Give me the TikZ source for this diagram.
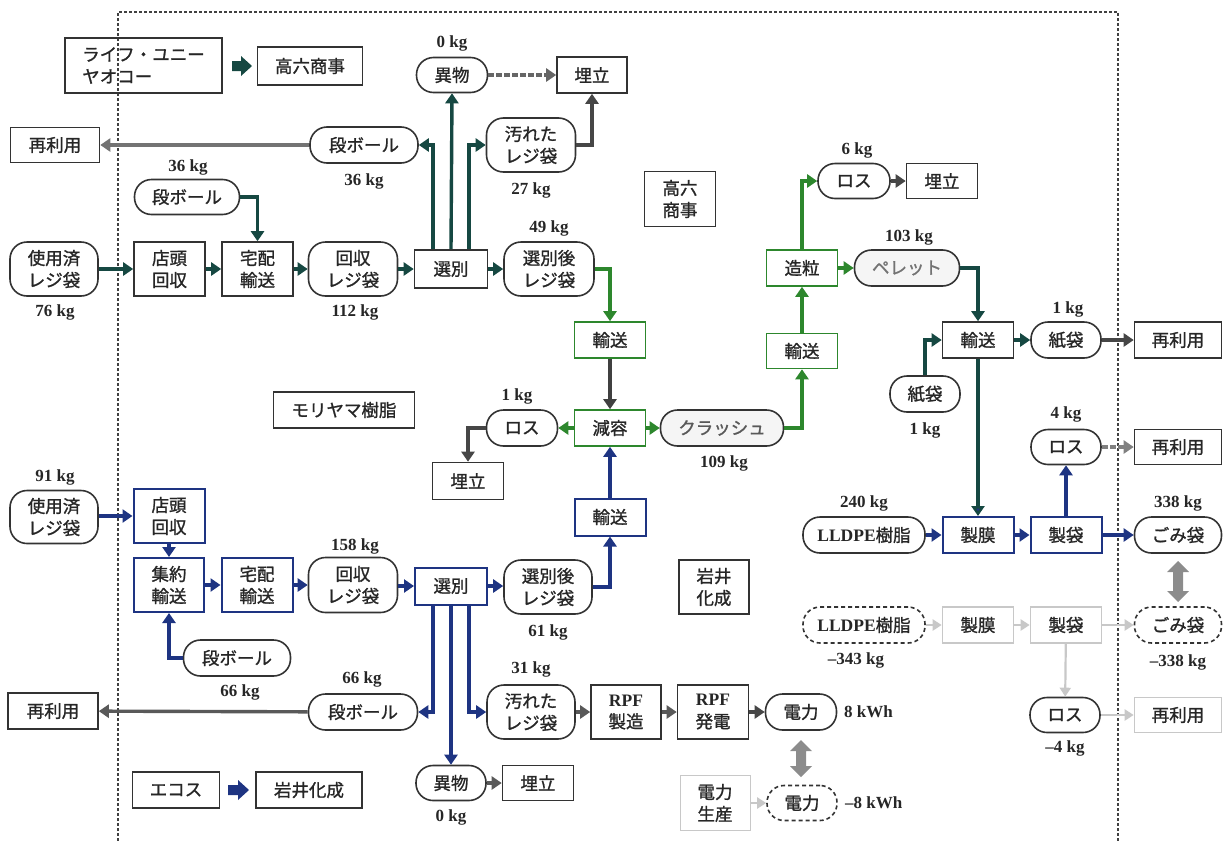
\documentclass[tikz,border=0pt]{standalone}
\usepackage{fontspec}
\setmainfont{Liberation Serif}
\newfontfamily\jp[FakeBold=1.2]{Noto Sans CJK JP}
\usetikzlibrary{arrows.meta}
\definecolor{cteal}{RGB}{22,72,66}
\definecolor{cgreen}{RGB}{45,135,45}
\definecolor{cnavy}{RGB}{30,52,130}
\definecolor{cdgray}{RGB}{70,70,70}
\definecolor{clgray}{RGB}{200,200,200}
\newcommand{\lat}[1]{{\rmfamily\bfseries #1}}
\tikzset{
  base/.style={inner sep=0pt, align=center, font=\jp\fontsize{17.5}{22}\selectfont, text=black!85, line width=1.6pt},
  bx/.style={base, draw=black!80, rectangle},
  rb/.style={base, draw=black!80, rounded corners=17pt},
  sz/.style 2 args={minimum width=#1pt, minimum height=#2pt},
  gbx/.style={bx, draw=cgreen},
  nbx/.style={bx, draw=cnavy, line width=2pt},
  lbx/.style={bx, draw=clgray},
  dsh/.style={dash pattern=on 4pt off 3pt},
  kg/.style={font=\bfseries\fontsize{17}{19}\selectfont, text=black!85, inner sep=0pt},
  arr/.style={line width=3.4pt, line join=miter, -{Triangle[length=10pt,width=13pt]}},
  tarr/.style={arr, draw=cteal, -{Triangle[length=10pt,width=13pt,fill=cteal]}},
  garr/.style={arr, draw=cgreen},
  narr/.style={arr, draw=cnavy},
  darr/.style={arr, draw=cdgray},
  larr/.style={line width=2.2pt, draw=clgray, -{Triangle[length=9pt,width=11pt]}},
}
\begin{document}
\begin{tikzpicture}[x=1pt,y=-1pt]
\useasboundingbox (0,0) rectangle (1227,841);
% dashed frame
\draw[line width=1.2pt, black!75, dash pattern=on 3pt off 2pt] (118,841) -- (118,12) -- (1118,12) -- (1118,841);

% ---------- top-left legend ----------
\node[bx, sz={157}{55}, align=left] (cust1) at (143.5,65.5) {ライフ・ユニー\\ヤオコー};
\node[bx, sz={105}{38}] (tk1) at (310,66) {高六商事};
\fill[cteal] (232,61) -- (241,61) -- (241,56) -- (252,66) -- (241,76) -- (241,71) -- (232,71) -- cycle;

% ---------- upper chain (Takaroku) ----------
\node[bx, sz={89}{35}] (reuse1) at (55,145) {再利用};
\node[rb, sz={108}{36}] (dan1) at (364,145) {段ボール};
\node[rb, sz={105}{35}] (dan0) at (187,197) {段ボール};
\node[rb, sz={88}{54}] (used1) at (54,269) {使用済\\レジ袋};
\node[bx, sz={71}{54}] (ten1) at (169.5,269) {店頭\\回収};
\node[bx, sz={71}{54}] (tak1) at (257.5,269) {宅配\\輸送};
\node[rb, sz={89}{54}] (kai1) at (353,269) {回収\\レジ袋};
\node[bx, sz={73}{38}] (sel1) at (451,269) {選別};
\node[rb, sz={90}{54}] (aft1) at (549,269) {選別後\\レジ袋};
\node[rb, sz={71}{35}] (ibu1) at (452,75) {異物};
\node[bx, sz={70}{36}] (ume1) at (592,75) {埋立};
\node[rb, sz={89}{54}] (yog1) at (531,145) {汚れた\\レジ袋};
\node[bx, sz={71}{55}] (tk2) at (680,199) {高六\\商事};

\node[kg] (l0a) at (452,43) {0 kg};
\node[kg] (l36a) at (364,181) {36 kg};
\node[kg] (l36b) at (188,167) {36 kg};
\node[kg] (l27) at (531,190) {27 kg};
\node[kg] (l49) at (549,228) {49 kg};
\node[kg] (l76) at (55,312) {76 kg};
\node[kg] (l112) at (355,312) {112 kg};

\draw[tarr] (used1) -- (ten1);
\draw[tarr] (ten1) -- (tak1);
\draw[tarr] (tak1) -- (kai1);
\draw[tarr] (kai1) -- (sel1);
\draw[tarr] (sel1) -- (aft1);
\draw[tarr] (dan0.east) -| (tak1.north);
\draw[tarr] ([xshift=-18pt]sel1.north) |- (dan1.east);
\draw[tarr] (sel1.north) -- (ibu1.south);
\draw[tarr] ([xshift=18pt]sel1.north) |- (yog1.west);
\draw[darr, draw=black!55] (dan1) -- (reuse1);
\draw[darr, draw=black!60, dash pattern=on 6pt off 2pt] (ibu1) -- (ume1);
\draw[darr] (yog1.east) -| (ume1.south);

% ---------- middle green chain (Moriyama) ----------
\node[gbx, sz={71}{36}] (yu1) at (610,340) {輸送};
\node[gbx, sz={71}{36}] (gen) at (610,428) {減容};
\node[rb, sz={71}{36}] (loss1) at (522,428) {ロス};
\node[bx, sz={71}{37}] (ume2) at (468,481) {埋立};
\node[rb, sz={123}{36}, fill=black!4, text=black!65] (crush) at (722,428) {クラッシュ};
\node[gbx, sz={71}{35}] (yu2) at (802,351) {輸送};
\node[gbx, sz={71}{36}] (zo) at (802,268) {造粒};
\node[rb, sz={72}{35}] (loss6) at (854,181) {ロス};
\node[bx, sz={71}{35}] (ume3) at (942,181) {埋立};
\node[rb, sz={105}{36}, fill=black!4, text=black!55] (pel) at (907,268) {ペレット};
\node[bx, sz={141}{36}] (mori) at (344,410) {モリヤマ樹脂};

\node[kg] (l1c) at (517,396) {1 kg};
\node[kg] (l109) at (724,463) {109 kg};
\node[kg] (l6) at (857,150) {6 kg};
\node[kg] (l103) at (909,237) {103 kg};

\draw[garr] (aft1.east) -| (yu1.north);
\draw[arr, draw=black!75] (yu1) -- (gen);
\draw[garr] (gen) -- (loss1);
\draw[darr] (loss1.west) -| (ume2.north);
\draw[garr] (gen) -- (crush);
\draw[garr] (crush.east) -| (yu2.south);
\draw[garr] (yu2) -- (zo);
\draw[garr] (zo.north) |- (loss6.west);
\draw[darr] (loss6) -- (ume3);
\draw[garr] (zo) -- (pel);

% ---------- right (bag making) ----------
\node[bx, sz={71}{36}] (yu3) at (978,340) {輸送};
\node[rb, sz={70}{36}] (kami1) at (925,394) {紙袋};
\node[rb, sz={70}{36}] (kami2) at (1066,340) {紙袋};
\node[bx, sz={87}{36}] (reuse2) at (1178,340) {再利用};
\node[rb, sz={70}{35}] (loss4) at (1066,447) {ロス};
\node[bx, sz={87}{35}] (reuse3) at (1178,447) {再利用};
\node[rb, sz={122}{36}] (lldpe) at (864,535) {\lat{LLDPE}樹脂};
\node[nbx, sz={71}{36}] (maku1) at (978,535) {製膜};
\node[nbx, sz={71}{36}] (fuk1) at (1066,535) {製袋};
\node[rb, sz={87}{36}] (gomi1) at (1178,535) {ごみ袋};

\node[kg] (l1a) at (1068,309) {1 kg};
\node[kg] (l1b) at (925,430) {1 kg};
\node[kg] (l4) at (1066,414) {4 kg};
\node[kg] (l240) at (864,503) {240 kg};
\node[kg] (l338) at (1178,503) {338 kg};

\draw[tarr] (pel.east) -| (yu3.north);
\draw[tarr] (kami1.north) |- (yu3.west);
\draw[tarr] (yu3) -- (kami2);
\draw[darr] (kami2) -- (reuse2);
\draw[arr, draw=cteal, -{Triangle[length=10pt,width=13pt,fill=cnavy]}] (yu3) -- (maku1);
\draw[narr] (lldpe) -- (maku1);
\draw[narr] (maku1) -- (fuk1);
\draw[narr] (fuk1) -- (gomi1);
\draw[narr] (fuk1) -- (loss4);
\draw[darr, draw=black!50, dash pattern=on 6pt off 2pt] (loss4) -- (reuse3);

% ---------- avoided (dashed) row ----------
\node[rb, sz={122}{36}, dsh] (lldpe2) at (864,625) {\lat{LLDPE}樹脂};
\node[lbx, sz={71}{36}] (maku2) at (978,625) {製膜};
\node[lbx, sz={71}{36}] (fuk2) at (1066,625) {製袋};
\node[rb, sz={87}{36}, dsh] (gomi2) at (1178,625) {ごみ袋};
\node[rb, sz={70}{35}] (loss5) at (1065,715) {ロス};
\node[lbx, sz={87}{35}] (reuse4) at (1178,715) {再利用};

\node[kg] (l343) at (856,660) {–343 kg};
\node[kg] (l338b) at (1178,662) {–338 kg};
\node[kg] (l4b) at (1065,748) {–4 kg};

\draw[larr] (lldpe2) -- (maku2);
\draw[larr] (maku2) -- (fuk2);
\draw[larr] (fuk2) -- (gomi2);
\draw[larr] (fuk2) -- (loss5);
\draw[larr] (loss5) -- (reuse4);

% grey double arrow (gomi)
\fill[black!45] (1178,561) -- (1189,572) -- (1183,572) -- (1183,591) -- (1189,591) -- (1178,602) -- (1167,591) -- (1173,591) -- (1173,572) -- (1167,572) -- cycle;

% ---------- lower navy chain (Iwai) ----------
\node[rb, sz={88}{53}] (used2) at (54,517) {使用済\\レジ袋};
\node[nbx, sz={71}{54}] (ten2) at (169,516) {店頭\\回収};
\node[nbx, sz={70}{54}] (shu) at (169,585) {集約\\輸送};
\node[nbx, sz={71}{54}] (tak2) at (257,585) {宅配\\輸送};
\node[rb, sz={89}{55}] (kai2) at (353,585) {回収\\レジ袋};
\node[nbx, sz={72}{37}] (sel2) at (451,586) {選別};
\node[rb, sz={88}{54}] (aft2) at (548,587) {選別後\\レジ袋};
\node[nbx, sz={71}{37}] (yu4) at (610,517) {輸送};
\node[rb, sz={107}{36}] (dan3) at (237,658) {段ボール};
\node[rb, sz={109}{36}] (dan4) at (363,712) {段ボール};
\node[bx, sz={90}{36}] (reuse5) at (53,711) {再利用};
\node[rb, sz={88}{54}] (yog2) at (531,712) {汚れた\\レジ袋};
\node[bx, sz={70}{54}] (rpf1) at (626,712) {\lat{RPF}\\製造};
\node[bx, sz={71}{54}] (rpf2) at (713,712) {\lat{RPF}\\発電};
\node[rb, sz={71}{36}] (den1) at (801,712) {電力};
\node[rb, sz={70}{35}] (ibu2) at (451,783) {異物};
\node[bx, sz={71}{35}] (ume4) at (538,783) {埋立};
\node[bx, sz={70}{54}] (iwai1) at (714,587) {岩井\\化成};
\node[bx, sz={87}{36}] (ecos) at (176,790) {エコス};
\node[bx, sz={106}{36}] (iwai2) at (309,790) {岩井化成};
\node[lbx, sz={70}{55}, line width=0.8pt] (dens) at (715,803) {電力\\生産};
\node[rb, sz={70}{35}, dsh] (den2) at (802,803) {電力};
\fill[cnavy] (228,785) -- (238,785) -- (238,780) -- (249,790) -- (238,800) -- (238,795) -- (228,795) -- cycle;

\node[kg] (l91) at (55,477) {91 kg};
\node[kg] (l158) at (355,546) {158 kg};
\node[kg] (l61) at (548,632) {61 kg};
\node[kg] (l66a) at (240,692) {66 kg};
\node[kg] (l66b) at (362,679) {66 kg};
\node[kg] (l31) at (531,669) {31 kg};
\node[kg] (l0b) at (451,817) {0 kg};
\node[kg, anchor=west] (l8) at (844,712) {8 kWh};
\node[kg, anchor=west] (l8b) at (845,803) {–8 kWh};

\draw[narr] (used2.east |- ten2) -- (ten2.west);
\draw[narr] (ten2) -- (shu);
\draw[narr] (dan3.west) -| (shu.south);
\draw[narr] (shu) -- (tak2);
\draw[narr] (tak2) -- (kai2);
\draw[narr] (kai2.east |- sel2) -- (sel2.west);
\draw[narr] (sel2.east) -- (aft2.west |- sel2);
\draw[narr] (aft2.east) -| (yu4.south);
\draw[narr] (yu4) -- (gen);
\draw[narr] ([xshift=-18pt]sel2.south) |- (dan4.east);
\draw[narr] (sel2.south) -- (ibu2.north);
\draw[narr] ([xshift=18pt]sel2.south) |- (yog2.west);
\draw[darr, draw=black!65] (dan4) -- (reuse5);
\draw[darr, draw=black!65] (yog2) -- (rpf1);
\draw[darr, draw=black!65] (rpf1) -- (rpf2);
\draw[darr] (rpf2) -- (den1);
\draw[darr, draw=black!65] (ibu2) -- (ume4);
\draw[larr] (dens) -- (den2);

% grey double arrow (power)
\fill[black!45] (801,740) -- (812,751) -- (806,751) -- (806,766) -- (812,766) -- (801,777) -- (790,766) -- (796,766) -- (796,751) -- (790,751) -- cycle;
\end{tikzpicture}
\end{document}
